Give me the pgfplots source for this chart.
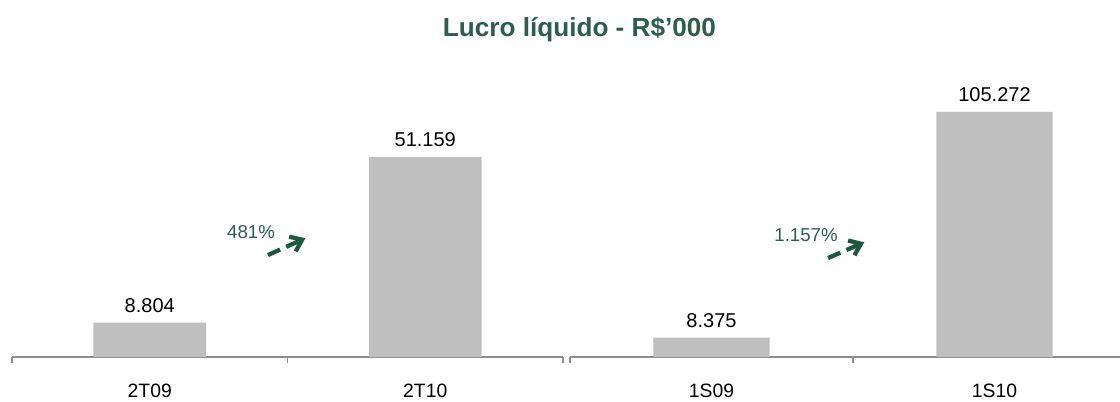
\documentclass[border=0pt]{standalone}
\usepackage{fontspec}
\setmainfont{Liberation Sans}
\usepackage{pgfplots}
\pgfplotsset{compat=1.18}
\usetikzlibrary{arrows.meta}
\definecolor{bargray}{HTML}{BFBFBF}
\definecolor{axgray}{HTML}{8C8C8C}
\definecolor{titlegreen}{HTML}{2B5F4B}
\definecolor{arrowgreen}{HTML}{1C5A3E}
\pgfplotsset{
  mybase/.style={
    scale only axis,
    anchor=south west,
    height=222.75pt,
    ymin=0,
    axis x line*=bottom,
    axis y line=none,
    x axis line style={draw=axgray, line width=1.2pt, -},
    xtick={0,1,2},
    xticklabels={},
    tick align=outside,
    major tick length=4.5pt,
    xtick style={draw=axgray, line width=0.8pt},
    extra x ticks={0.5,1.5},
    extra x tick style={major tick length=0pt, tick style={draw=none}},
    xticklabel style={font=\fontsize{14.5}{16}\selectfont, anchor=north, inner sep=0pt, yshift=-20.25pt},
    clip=false,
    ybar,
    bar width=0.41,
    bar shift=0pt,
    nodes near coords,
    point meta=explicit symbolic,
    nodes near coords style={font=\fontsize{15}{17}\selectfont, anchor=south, inner sep=0pt, yshift=7.5pt},
  }
}
\begin{document}
\begin{tikzpicture}
\path[use as bounding box] (0,0) rectangle (840pt,300.75pt);
\node[font=\fontsize{19.6}{22}\selectfont\bfseries, text=titlegreen] at (434.6pt,278.25pt) {Lucro líquido - R\$’000};
% left axis
\begin{axis}[mybase,
  at={(9pt,33pt)},
  width=413.25pt,
  xmin=0, xmax=2,
  ymax=76,
  extra x tick labels={2T09,2T10},
]
\addplot[fill=bargray, draw=none] table[meta=label] {
x y label
0.5 8.804 8.804
1.5 51.159 51.159
};
\node[font=\fontsize{14}{16}\selectfont, text=titlegreen] at (axis cs:0.8675,31.98) {481\%};
\draw[arrowgreen, line width=3.2pt, dash pattern=on 10pt off 5pt, -{Straight Barb[length=8pt,width=12pt]}] (axis cs:0.929,26.09) -- (axis cs:1.065,30.4);
\end{axis}
% right axis
\begin{axis}[mybase,
  at={(427.5pt,33pt)},
  width=412.5pt,
  xmin=0, xmax=1.9435,
  ymax=127.6,
  extra x tick labels={1S09,1S10},
]
\addplot[fill=bargray, draw=none] table[meta=label] {
x y label
0.5 8.375 8.375
1.5 105.272 105.272
};
\node[font=\fontsize{14}{16}\selectfont, text=titlegreen] at (axis cs:0.834,52.43) {1.157\%};
\draw[arrowgreen, line width=3.2pt, dash pattern=on 10pt off 5pt, -{Straight Barb[length=8pt,width=12pt]}] (axis cs:0.912,42.54) -- (axis cs:1.04,49.3);
\end{axis}
\end{tikzpicture}
\end{document}
